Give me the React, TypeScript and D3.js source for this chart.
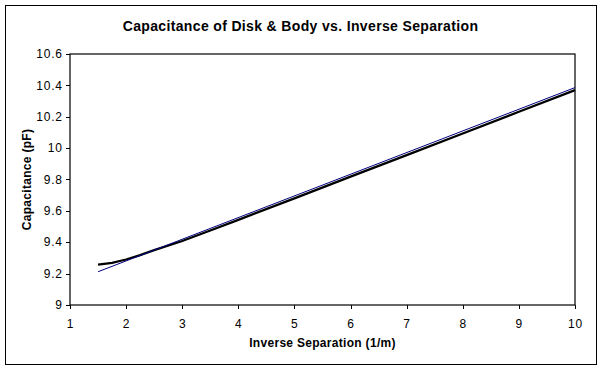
import React from "react";
import * as d3 from "d3";

const dataX = [1.5, 1.75, 2.0, 2.25, 2.5, 3.0, 3.5, 4, 5, 6, 7, 8, 9, 10];
const dataY = [9.258, 9.268, 9.29, 9.318, 9.35, 9.408, 9.475, 9.543, 9.68, 9.818, 9.955, 10.093, 10.232, 10.37];
const trendX = [1.5, 10];
const trendY = [9.212, 10.386];
const xTicks = [1, 2, 3, 4, 5, 6, 7, 8, 9, 10];
const yTicks = [9, 9.2, 9.4, 9.6, 9.8, 10, 10.2, 10.4, 10.6];
const title = "Capacitance of Disk & Body vs. Inverse Separation";
const xTitle = "Inverse Separation (1/m)";
const yTitle = "Capacitance (pF)";

export default function App() {
  const W = 602, H = 370;
  const left = 70, right = 575, top = 54, bottom = 305;
  const x = d3.scaleLinear().domain([1, 10]).range([left, right]);
  const y = d3.scaleLinear().domain([9, 10.6]).range([bottom, top]);
  const line = d3.line<[number, number]>().x(d => x(d[0])).y(d => y(d[1]));
  const dataPts = dataX.map((v, i) => [v, dataY[i]] as [number, number]);
  const trendPts = trendX.map((v, i) => [v, trendY[i]] as [number, number]);
  const font = "'Liberation Sans', Arial, sans-serif";
  return (
    <svg width={W} height={H} style={{ position: "absolute", left: 0, top: 0, background: "#fff" }} fontFamily={font}>
      <rect x={0} y={0} width={W} height={H} fill="#fff" />
      <rect x={5.5} y={5.5} width={591} height={359} fill="#fff" stroke="#000" strokeWidth={1} />
      <text x={300.5} y={30.5} textAnchor="middle" fontSize={14} fontWeight="bold" letterSpacing={0.35}>{title}</text>
      <rect x={left} y={top} width={right - left} height={bottom - top} fill="#fff" stroke="#000" strokeWidth={1.2} />
      {yTicks.map(t => (
        <g key={"y" + t}>
          <line x1={left - 4} x2={left} y1={Math.round(y(t)) + 0.5} y2={Math.round(y(t)) + 0.5} stroke="#000" />
          <text x={62.8} y={y(t)} dy="0.35em" textAnchor="end" fontSize={12} letterSpacing={0.8}>{String(t)}</text>
        </g>
      ))}
      {xTicks.map(t => (
        <g key={"x" + t}>
          <line x1={Math.round(x(t)) + 0.5} x2={Math.round(x(t)) + 0.5} y1={bottom} y2={bottom + 4} stroke="#000" />
          <text x={x(t) + 0.4} y={328} textAnchor="middle" fontSize={12} letterSpacing={0.8}>{String(t)}</text>
        </g>
      ))}
      <path d={line(dataPts) || ""} fill="none" stroke="#000" strokeWidth={2.3} />
      <path d={line(trendPts) || ""} fill="none" stroke="#000080" strokeWidth={1} />
      <text x={(left + right) / 2} y={347} textAnchor="middle" fontSize={12} fontWeight="bold" letterSpacing={0.3}>{xTitle}</text>
      <text transform={`translate(31,${(top + bottom) / 2}) rotate(-90)`} textAnchor="middle" fontSize={12} fontWeight="bold" letterSpacing={0.3}>{yTitle}</text>
    </svg>
  );
}
